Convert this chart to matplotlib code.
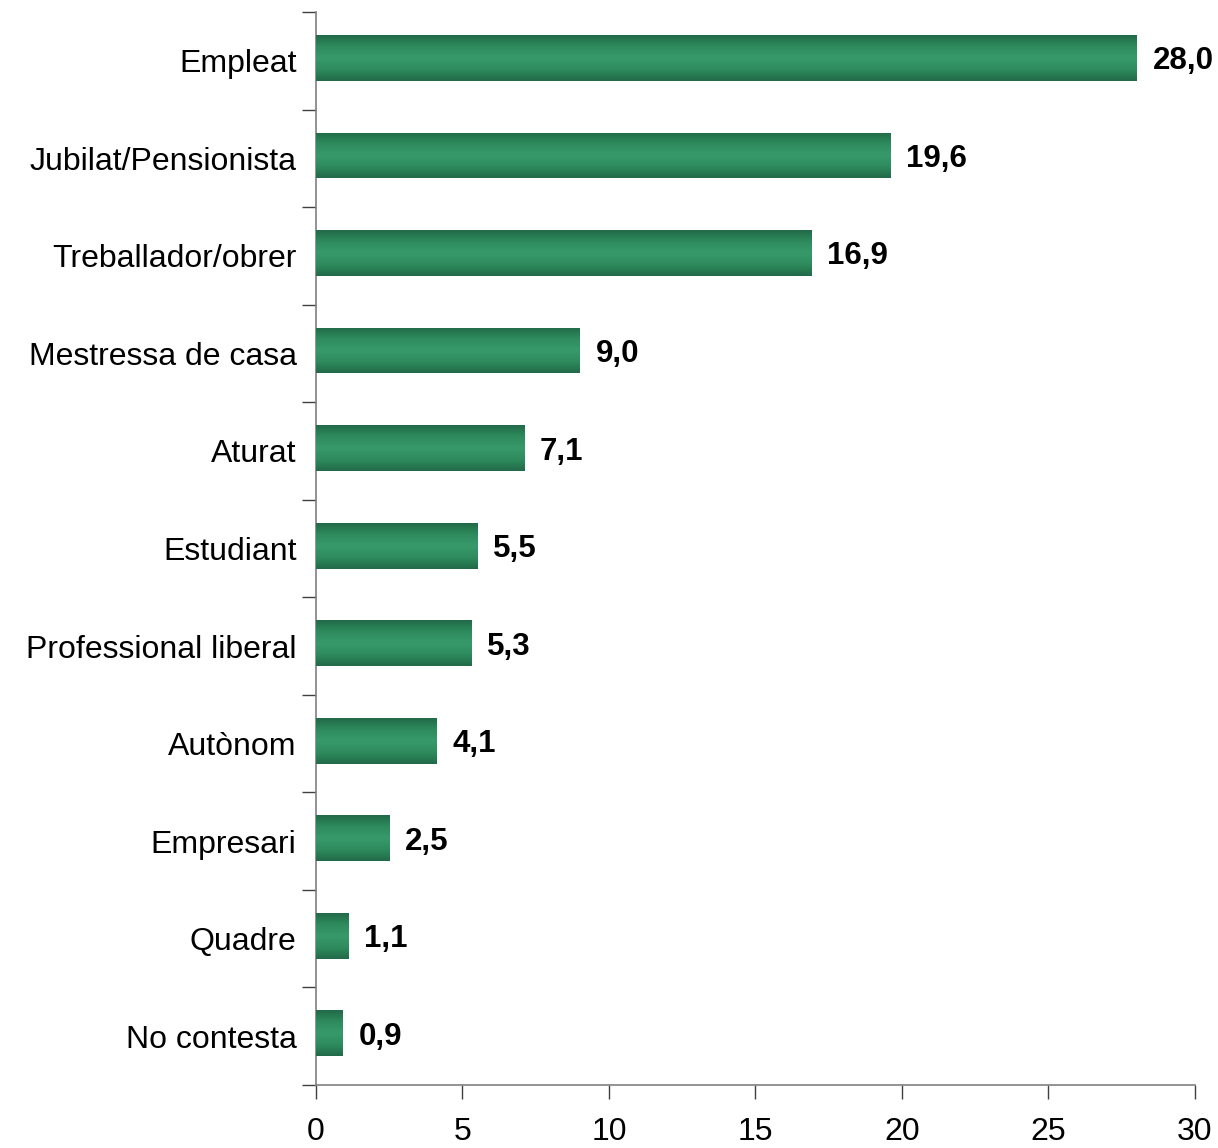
import matplotlib
matplotlib.use("Agg")
import matplotlib.pyplot as plt
import numpy as np

categories = ["Empleat", "Jubilat/Pensionista", "Treballador/obrer", "Mestressa de casa",
              "Aturat", "Estudiant", "Professional liberal", "Autònom", "Empresari",
              "Quadre", "No contesta"]
values = [28.0, 19.6, 16.9, 9.0, 7.1, 5.5, 5.3, 4.1, 2.5, 1.1, 0.9]
x_ticks = [0, 5, 10, 15, 20, 25, 30]

plt.rcParams['font.family'] = ['Liberation Sans', 'DejaVu Sans']

fig = plt.figure(figsize=(12.18, 11.48), dpi=100)
ax = fig.add_axes([0.2594, 0.0549, 0.7216, 0.9346])

n = len(categories)
ypos = np.arange(n)
bars = ax.barh(ypos - 0.03, values, height=0.47, color="#2b8659", edgecolor="none", zorder=2)

# vertical gradient: dark at edges, light in the middle
grad = np.abs(np.linspace(-1, 1, 64))[:, None]
cmap = matplotlib.colors.LinearSegmentedColormap.from_list("g", ["#37996b", "#2e8b5d", "#226a49"])
for b in bars:
    x0, y0 = b.get_x(), b.get_y()
    w, h = b.get_width(), b.get_height()
    im = ax.imshow(grad, cmap=cmap, aspect="auto", extent=[x0, x0 + w, y0, y0 + h],
                   origin="lower", zorder=3, interpolation="bilinear")
    im.set_clip_path(b)
    b.set_alpha(0)

for y, v in zip(ypos, values):
    ax.text(v + 0.55, y - 0.03, f"{v:.1f}".replace(".", ","), va="center_baseline", ha="left",
            fontsize=22.5, fontweight="bold", zorder=4)

ax.set_xlim(0, 30)
ax.set_ylim(n - 0.5, -0.5)
ax.set_xticks(x_ticks)
ax.set_xticklabels([str(t) for t in x_ticks], fontsize=23)
ax.set_yticks(ypos)
ax.set_yticklabels(categories, fontsize=23)
ax.tick_params(axis="y", length=0, pad=14)
ax.set_yticks(np.arange(-0.5, n, 1), minor=True)
ax.tick_params(axis="y", which="minor", length=10, color="#404040", width=1)
ax.tick_params(axis="x", length=10, color="#404040", width=1, pad=13)

for s in ["top", "right"]:
    ax.spines[s].set_visible(False)
for s in ["left", "bottom"]:
    ax.spines[s].set_color("#808080")
    ax.spines[s].set_linewidth(1.2)

fig.savefig("out.png", dpi=100)
